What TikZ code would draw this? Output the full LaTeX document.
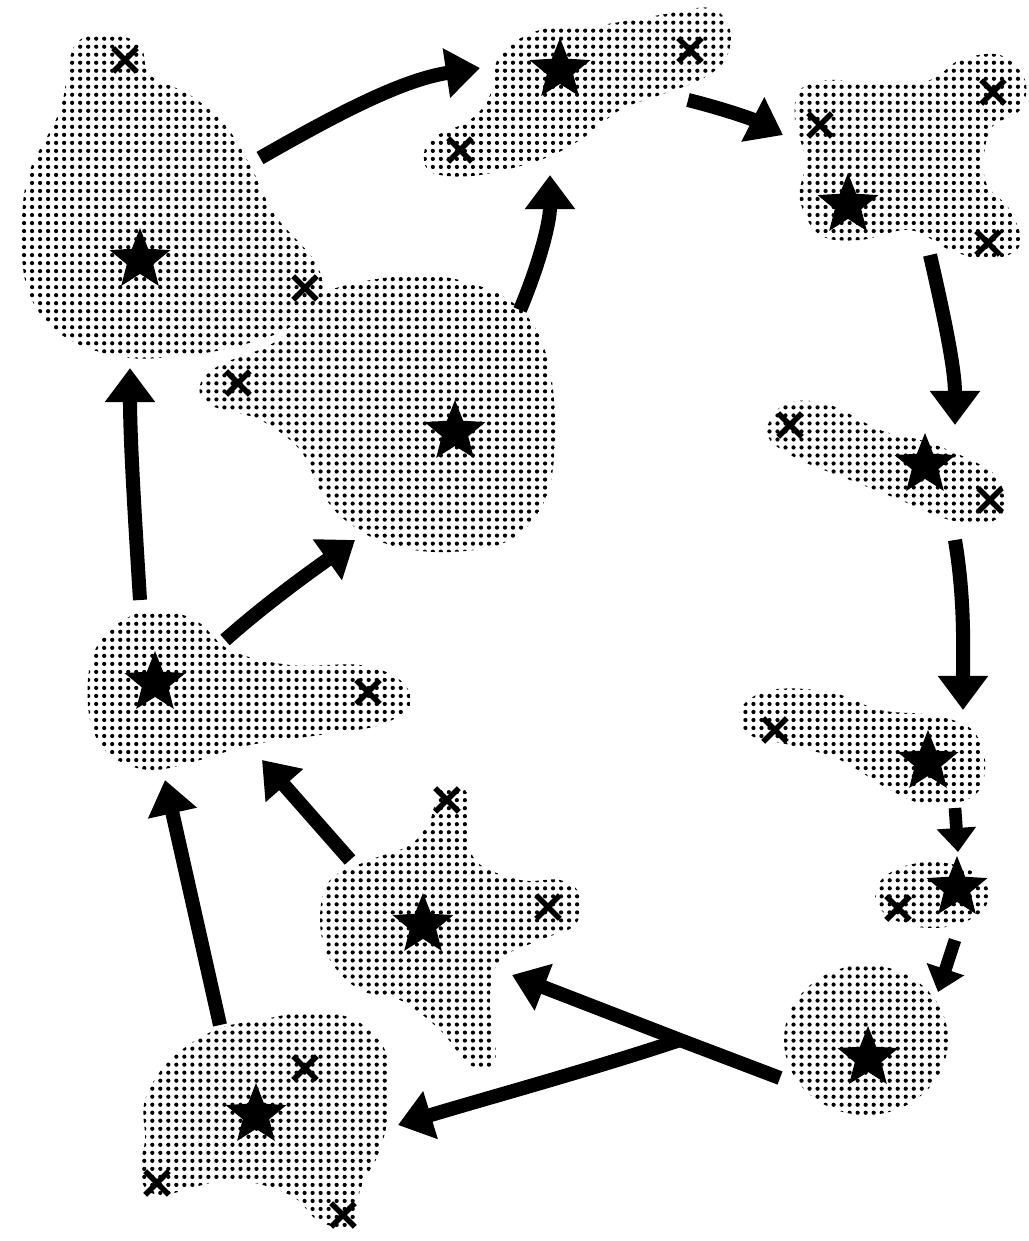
\documentclass[tikz,border=0pt]{standalone}
\usepackage{tikz}
\usetikzlibrary{shapes.geometric, shapes.misc, arrows.meta, patterns.meta}

\tikzdeclarepattern{
  name=halftone,
  type=uncolored,
  bottom left={(-2.85pt,-2.85pt)},
  top right={(2.85pt,2.85pt)},
  tile size={(5.7pt,5.7pt)},
  code={\fill (0pt,0pt) circle (1.5pt);}
}

\begin{document}
\begin{tikzpicture}[
  x=0.025cm, y=-0.025cm,
  blob/.style={pattern=halftone, pattern color=black},
  starmark/.style={star, star points=5, star point ratio=2.3, fill=black, inner sep=0pt, minimum size=1.6cm},
  crossmark/.style={cross out, draw=black, line width=4pt, inner sep=0pt, minimum size=0.45cm},
  arrow/.style={-{Triangle[length=0.85cm, width=1.2cm]}, line width=10pt},
  smallarrow/.style={-{Triangle[length=0.6cm, width=0.95cm]}, line width=9pt}
]
\useasboundingbox (0,0) rectangle (1029,1241);

% blobs
\fill[blob] plot[smooth cycle, tension=0.6] coordinates {(75,45) (110,35) (140,45) (150,75) (190,95) (225,125) (250,165) (275,215) (315,262) (322,300) (285,330) (230,348) (180,356) (130,358) (80,345) (45,320) (25,280) (22,220) (30,170) (60,110)};
\fill[blob] plot[smooth cycle, tension=0.6] coordinates {(330,290) (420,275) (490,290) (530,320) (550,370) (555,440) (545,500) (510,540) (450,552) (390,545) (345,520) (320,490) (300,450) (260,420) (210,405) (200,385) (220,365) (270,345) (300,320)};
\fill[blob] plot[smooth cycle, tension=0.6] coordinates {(425,165) (430,140) (470,120) (490,95) (500,55) (540,30) (600,25) (660,15) (710,8) (730,30) (725,60) (700,80) (660,95) (620,110) (580,140) (540,160) (480,175) (440,175)};
\fill[blob] plot[smooth cycle, tension=0.6] coordinates {(800,90) (830,80) (880,85) (930,80) (960,60) (1000,55) (1025,80) (1020,110) (990,130) (985,180) (1010,210) (1020,245) (990,260) (950,250) (910,230) (860,240) (820,235) (800,200) (805,160) (795,120)};
\fill[blob] plot[smooth cycle, tension=0.6] coordinates {(770,420) (790,402) (830,405) (880,430) (920,440) (960,455) (995,475) (1005,505) (990,522) (950,520) (900,500) (850,480) (800,460) (770,440)};
\fill[blob] plot[smooth cycle, tension=0.6] coordinates {(740,710) (770,690) (830,692) (880,710) (930,715) (970,728) (985,760) (975,795) (930,805) (890,790) (840,760) (790,745) (750,735)};
\fill[blob] (932,895) ellipse [x radius=57, y radius=33];
\fill[blob] (866,1040) ellipse [x radius=82, y radius=75];
\fill[blob] plot[smooth cycle, tension=0.6] coordinates {(440,790) (465,790) (470,820) (475,860) (520,880) (560,880) (580,895) (575,925) (540,940) (500,960) (490,1000) (495,1060) (470,1065) (440,1030) (400,1000) (360,990) (330,960) (320,920) (330,880) (370,860) (410,845) (430,820)};
\fill[blob] plot[smooth cycle, tension=0.6] coordinates {(145,1100) (170,1060) (215,1030) (260,1020) (310,1012) (355,1020) (385,1050) (390,1100) (380,1150) (360,1190) (355,1225) (320,1222) (290,1195) (230,1180) (160,1195) (140,1175) (145,1140)};
\fill[blob] plot[smooth cycle, tension=0.6] coordinates {(90,665) (110,630) (150,610) (195,620) (230,650) (290,665) (360,665) (400,680) (410,705) (380,725) (320,735) (250,745) (200,760) (150,770) (110,755) (90,720)};

% stars
\node[starmark] (starA) at (140,260) {};
\node[starmark] (starB) at (455,432) {};
\node[starmark] (starC) at (560,70) {};
\node[starmark] (starD) at (848,205) {};
\node[starmark] (starE) at (925,465) {};
\node[starmark] (starF) at (928,762) {};
\node[starmark] (starG) at (957,888) {};
\node[starmark] (starH) at (868,1058) {};
\node[starmark] (starI) at (423,925) {};
\node[starmark] (starJ) at (256,1115) {};
\node[starmark] (starK) at (155,683) {};

% crosses
\node[crossmark] (xA1) at (125,60) {};
\node[crossmark] (xA2) at (305,288) {};
\node[crossmark] (xB1) at (238,383) {};
\node[crossmark] (xC1) at (690,50) {};
\node[crossmark] (xC2) at (460,150) {};
\node[crossmark] (xD1) at (820,125) {};
\node[crossmark] (xD2) at (993,92) {};
\node[crossmark] (xD3) at (988,243) {};
\node[crossmark] (xE1) at (790,425) {};
\node[crossmark] (xE2) at (990,500) {};
\node[crossmark] (xF1) at (775,730) {};
\node[crossmark] (xG1) at (898,908) {};
\node[crossmark] (xI1) at (447,800) {};
\node[crossmark] (xI2) at (548,907) {};
\node[crossmark] (xJ1) at (305,1068) {};
\node[crossmark] (xJ2) at (157,1183) {};
\node[crossmark] (xJ3) at (343,1215) {};
\node[crossmark] (xK1) at (368,692) {};

% arrow ends
\coordinate (outA) at (260,158);
\coordinate (inC1) at (480,68);
\coordinate (outB) at (520,310);
\coordinate (inC2) at (550,175);
\coordinate (outC) at (688,100);
\coordinate (inD) at (783,135);
\coordinate (outD) at (930,255);
\coordinate (inE) at (955,425);
\coordinate (outE) at (955,540);
\coordinate (inF) at (963,710);
\coordinate (outF) at (955,808);
\coordinate (inG) at (958,852);
\coordinate (outG) at (955,940);
\coordinate (inH) at (938,992);
\coordinate (outH) at (780,1078);
\coordinate (fork) at (680,1040);
\coordinate (inI) at (512,975);
\coordinate (inJ) at (398,1125);
\coordinate (outJ) at (220,1025);
\coordinate (inK1) at (165,780);
\coordinate (outI) at (350,860);
\coordinate (inK2) at (262,760);
\coordinate (outK1) at (140,600);
\coordinate (inA) at (130,368);
\coordinate (outK2) at (225,640);
\coordinate (inB) at (355,540);

% arrows
\draw[arrow] (outA) .. controls (330,118) and (400,80) .. (inC1);
\draw[arrow] (outB) .. controls (540,262) and (550,222) .. (inC2);
\draw[arrow] (outC) .. controls (720,108) and (750,118) .. (inD);
\draw[arrow] (outD) .. controls (945,320) and (955,370) .. (inE);
\draw[arrow] (outE) .. controls (965,600) and (963,650) .. (inF);
\draw[smallarrow] (outF) -- (inG);
\draw[smallarrow] (outG) -- (inH);
\draw[arrow] (outH) -- (fork) -- (inI);
\draw[arrow] (fork) .. controls (590,1070) and (480,1100) .. (inJ);
\draw[arrow] (outJ) -- (inK1);
\draw[arrow] (outI) -- (inK2);
\draw[arrow] (outK1) .. controls (135,520) and (130,440) .. (inA);
\draw[arrow] (outK2) .. controls (270,600) and (320,565) .. (inB);

\end{tikzpicture}
\end{document}
